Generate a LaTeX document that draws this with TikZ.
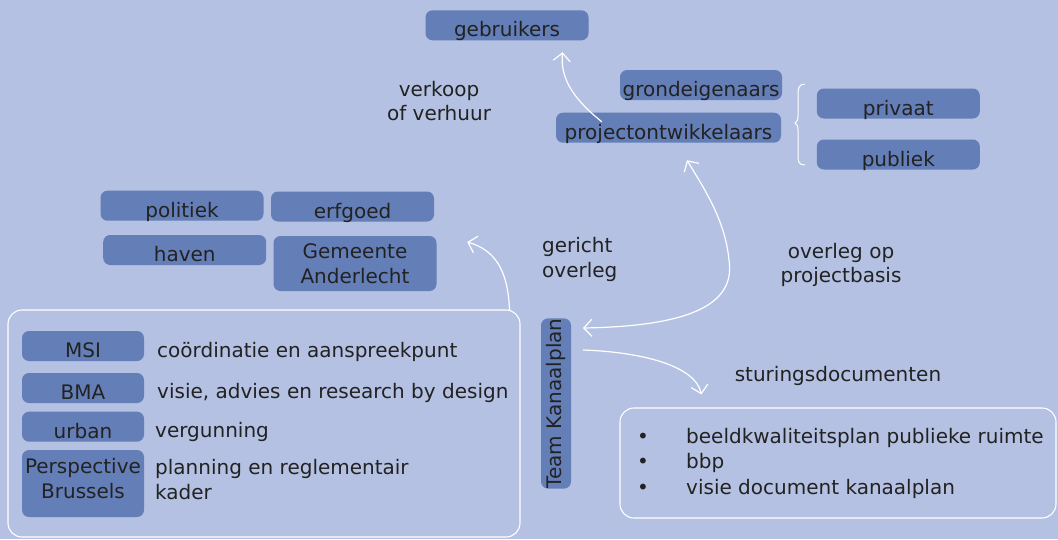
\documentclass[tikz,border=0pt]{standalone}
\usepackage{fontspec}
\setmainfont{DejaVu Sans}
\usetikzlibrary{arrows.meta,calc}
\definecolor{bg}{RGB}{180,193,226}
\definecolor{boxc}{RGB}{100,126,183}
\definecolor{ink}{RGB}{34,34,34}
\begin{document}
\begin{tikzpicture}[x=1pt,y=-1pt,
  every node/.style={font=\fontsize{20}{24.5}\selectfont, text=ink, inner sep=0pt},
  tagbox/.style={fill=boxc, rounded corners=7pt, minimum height=30pt, minimum width=163pt},
  tagone/.style={tagbox, text height=23pt, text depth=0pt},
  frame/.style={draw=white, line width=1.1pt, rounded corners=14pt},
  conn/.style={draw=white, line width=1.2pt, -{Straight Barb[length=8pt,width=17pt]}},
  conntwo/.style={draw=white, line width=1.2pt, {Straight Barb[length=8pt,width=17pt]}-{Straight Barb[length=8pt,width=17pt]}},
  lbl/.style={anchor=base}]
\useasboundingbox (0,0) rectangle (1058,539);
\fill[bg] (0,0) rectangle (1058,539);

% top cluster
\node[tagone] (gebruikers) at (507,25.3) {gebruikers};
\node[tagone, minimum width=162pt] (grond) at (701,85) {grondeigenaars};
\node[tagone, minimum width=225pt] (pdev) at (668.5,127.7) {projectontwikkelaars};
\node[tagone] (privaat) at (898.3,103.5) {privaat};
\node[tagone] (publiek) at (898.3,154.5) {publiek};
\draw[white, line width=1pt] (805,84) .. controls (799,84) and (798,88) .. (798,95) -- (798,116)
  .. controls (798,120) and (797,122) .. (795,123) .. controls (797,124) and (798,126) .. (798,130)
  -- (798,156) .. controls (798,162) and (799,165) .. (805,165);
\node[lbl, align=center] (verkoop) at (439,120.7) {verkoop\\of verhuur};

% left-middle cluster
\node[tagone] (politiek) at (182,205.7) {politiek};
\node[tagone] (erfgoed) at (352.5,206.5) {erfgoed};
\node[tagone] (haven) at (184.7,250) {haven};
\node[tagbox, minimum height=55pt, align=center] (gemeente) at (355,263.5) {Gemeente\\Anderlecht};
\node[anchor=base west, align=left] (gericht) at (542,277.3) {gericht\\overleg};
\node[lbl, align=center] (overleg) at (841,282.7) {overleg op\\projectbasis};

% left container
\node[frame, minimum width=512pt, minimum height=227pt] (leftbox) at (264,423.5) {};
\node[tagone, minimum width=122pt] (msi) at (83,346) {MSI};
\node[tagone, minimum width=122pt] (bma) at (83,388) {BMA};
\node[tagone, minimum width=122pt] (urban) at (83,426.7) {urban};
\node[tagbox, minimum width=122pt, minimum height=67pt, align=center, text depth=10pt] (pb) at (83,483.5) {Perspective\\Brussels};
\node[anchor=base west] (dmsi) at (157,357) {coördinatie en aanspreekpunt};
\node[anchor=base west] (dbma) at (157,398.5) {visie, advies en research by design};
\node[anchor=base west] (durban) at (155,437.7) {vergunning};
\node[anchor=base west, align=left] (dpb) at (155,499) {planning en reglementair\\kader};

% team
\node[tagbox, rotate=90] (team) at (556,403.5) {Team Kanaalplan};

% documents
\node[lbl] (stur) at (838,381.7) {sturingsdocumenten};
\node[frame, minimum width=436pt, minimum height=110pt] (docs) at (838,463) {};
\node[lbl] (b1) at (643,443.3) {•};
\node[lbl] (b2) at (643,468.6) {•};
\node[lbl] (b3) at (643,494.3) {•};
\node[anchor=base west] (i1) at (686,443.3) {beeldkwaliteitsplan publieke ruimte};
\node[anchor=base west] (i2) at (686,468.6) {bbp};
\node[anchor=base west] (i3) at (686,494.3) {visie document kanaalplan};

% connectors
\draw[conn] ($(pdev.north west)+(46,9.3)$) .. controls (575,100) and (560,80) .. ($(gebruikers.south)+(55.5,11.7)$);
\draw[conntwo] ($(team.center)+(27,-75.5)$) .. controls (700,326) and (735,300) .. (729,260)
  .. controls (725,220) and (705,190) .. ($(pdev.south)+(18.5,17.3)$);
\draw[conn] ($(leftbox.north east)+(-11,1)$) .. controls (508,270) and (495,250) .. ($(gemeente.east)+(30.5,-21.5)$);
\draw[conn] ($(team.center)+(27,-53.5)$) .. controls (640,352) and (695,365) .. ($(docs.north west)+(82,-13)$);
\end{tikzpicture}
\end{document}
